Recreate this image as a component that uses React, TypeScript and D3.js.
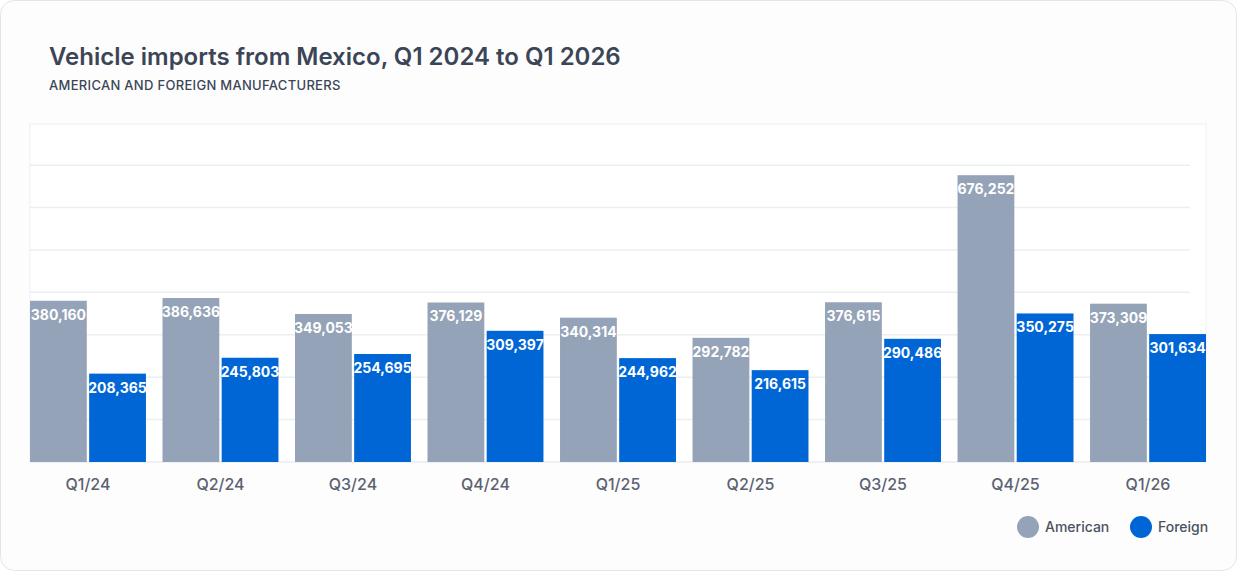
import * as d3 from "d3";

const QUARTERS = ["Q1/24", "Q2/24", "Q3/24", "Q4/24", "Q1/25", "Q2/25", "Q3/25", "Q4/25", "Q1/26"];
const AMERICAN = [380160, 386636, 349053, 376129, 340314, 292782, 376615, 676252, 373309];
const FOREIGN = [208365, 245803, 254695, 309397, 244962, 216615, 290486, 350275, 301634];
const SERIES = ["American", "Foreign"];
const COLORS = ["#94a3b8", "#0066d6"];
const GRID_TICKS = [0, 100000, 200000, 300000, 400000, 500000, 600000, 700000];

export default function App() {
  const W = 1237;
  const H = 571;
  const left = 30;
  const right = 1206;
  const top = 124;
  const bottom = 462;

  const x0 = d3.scaleBand<string>().domain(QUARTERS).range([left, right]).paddingInner(0.125).paddingOuter(0);
  const x1 = d3.scaleBand<string>().domain(SERIES).range([0, x0.bandwidth()]).paddingInner(0.04);
  const y = d3.scaleLinear().domain([0, 797000]).range([bottom, top]);
  const fmt = d3.format(",");
  const font = "Inter, 'Noto Sans', sans-serif";

  return (
    <svg width={W} height={H} style={{ position: "absolute", left: 0, top: 0, fontFamily: font }}>
      <rect x={0.5} y={0.5} width={W - 1} height={H - 1} rx={14} fill="#fdfdfe" stroke="#e3e5ea" />
      <text x={49} y={65} fontSize={24} fontWeight={600} fill="#3b4556">
        Vehicle imports from Mexico, Q1 2024 to Q1 2026
      </text>
      <text x={49} y={90} fontSize={13} fontWeight={500} fill="#3b4556" letterSpacing={0.3}>
        AMERICAN AND FOREIGN MANUFACTURERS
      </text>
      <rect x={left} y={top} width={right - left} height={bottom - top} fill="#ffffff" stroke="#eef0f3" />
      {GRID_TICKS.map((t) => (
        <line key={t} x1={left} x2={1190} y1={y(t)} y2={y(t)} stroke="#eceef2" strokeWidth={1.5} />
      ))}
      {QUARTERS.map((q, i) => (
        <g key={q} transform={`translate(${x0(q)},0)`}>
          {[AMERICAN[i], FOREIGN[i]].map((v, j) => {
            const bx = x1(SERIES[j])!;
            return (
              <g key={j}>
                <rect x={bx} y={y(v)} width={x1.bandwidth()} height={bottom - y(v)} fill={COLORS[j]} />
                <text
                  x={bx + x1.bandwidth() / 2}
                  y={y(v) + 19}
                  textAnchor="middle"
                  fontSize={14}
                  fontWeight={700}
                  fill="#ffffff"
                >
                  {fmt(v)}
                </text>
              </g>
            );
          })}
          <text x={x0.bandwidth() / 2} y={490} textAnchor="middle" fontSize={16} fontWeight={500} fill="#5b6270">
            {q}
          </text>
        </g>
      ))}
      {SERIES.map((s, i) => {
        const lx = [1028, 1141][i];
        return (
          <g key={s}>
            <circle cx={lx} cy={527} r={11} fill={COLORS[i]} />
            <text x={lx + 17} y={532} fontSize={14} fontWeight={500} fill="#4b5260">
              {s}
            </text>
          </g>
        );
      })}
    </svg>
  );
}
